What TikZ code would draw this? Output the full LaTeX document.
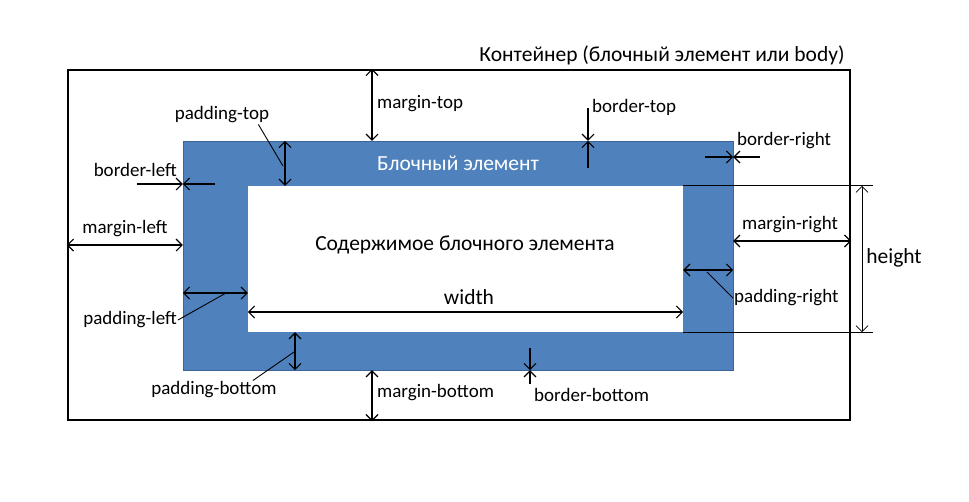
\documentclass[tikz,border=0pt]{standalone}
\usepackage{fontspec}
\setmainfont{Carlito}
\usetikzlibrary{arrows,arrows.meta,positioning,calc}
\definecolor{blockblue}{HTML}{4F81BD}
\definecolor{blockedge}{HTML}{3A6496}
\tikzset{
  lbl/.style={inner sep=1pt, font=\fontsize{19}{21}\selectfont},
  big/.style={inner sep=1pt, font=\fontsize{21.5}{24}\selectfont},
  dim/.style={<->, line width=1.1pt},
  tip/.style={->, line width=1.1pt},
  lead/.style={line width=0.9pt}
}
\begin{document}
\begin{tikzpicture}[x=1pt, y=-1pt, >={Straight Barb[length=6pt,width=12pt]}]
    \useasboundingbox (0,0) rectangle (969,501);

    % Boxes
    \node[rectangle, draw, line width=2.5pt, minimum width=782pt, minimum height=350pt] (cont) at (459,245) {};
    \node[rectangle, draw=blockedge, fill=blockblue, minimum width=550pt, minimum height=229pt] (blk) at (458,255.5) {};
    \node[rectangle, fill=white, minimum width=435pt, minimum height=146pt, inner sep=0pt] (inner) at (465.5,259) {};

    % Texts
    \node[big] (title) at (662,55) {Контейнер (блочный элемент или body)};
    \node[big, text=white] (blkname) at (458,163) {Блочный элемент};
    \node[big] (content) at (465,245) {Содержимое блочного элемента};
    \node[big] (widthl) at (469,297) {width};
    \node[lbl, anchor=west] (mtop) at (376,104) {margin-top};
    \node[lbl, anchor=west] (mbot) at (376,393) {margin-bottom};
    \node[lbl, anchor=west] (btop) at (591,107) {border-top};
    \node[lbl, anchor=west] (bright) at (736,141) {border-right};
    \node[lbl, anchor=east] (bleft) at (178,170) {border-left};
    \node[lbl] (mleft) at (125,229) {margin-left};
    \node[lbl, anchor=east] (pleft) at (178,320) {padding-left};
    \node[lbl] (ptop) at (222,115) {padding-top};
    \node[lbl] (pbot) at (214,390) {padding-bottom};
    \node[lbl, anchor=west] (pright) at (733,298) {padding-right};
    \node[lbl, anchor=west] (bbot) at (533,395) {border-bottom};
    \node[lbl] (mright) at (790,225) {margin-right};
    \node[big] (heightl) at (894,258) {height};

    % Dimension lines
    \draw[dim] (inner.west |- 0,312) -- (inner.east |- 0,312);
    \draw[dim] (372,0 |- cont.north) -- (372,0 |- blk.north);
    \draw[dim] (372,0 |- blk.south) -- (372,0 |- cont.south);
    \draw[dim] (cont.west |- 0,245) -- (blk.west |- 0,245);
    \draw[dim] (blk.east |- 0,241) -- (cont.east |- 0,241);
    \draw[dim] (blk.west |- 0,293) -- (inner.west |- 0,293);
    \draw[dim] (inner.east |- 0,270) -- (blk.east |- 0,270);
    \draw[dim] (285,0 |- blk.north) -- (285,0 |- inner.north);
    \draw[dim] (295,0 |- inner.south) -- (295,0 |- blk.south);
    \draw[tip] (588,108) -- (588,0 |- blk.north);
    \draw[tip] (588,168) -- (588,0 |- blk.north);
    \draw[tip] (530,348) -- (530,0 |- blk.south);
    \draw[tip] (530,384) -- (530,0 |- blk.south);
    \draw[tip] (137,184) -- (blk.west |- 0,184);
    \draw[tip] (215,184) -- (blk.west |- 0,184);
    \draw[tip] (705,157) -- (blk.east |- 0,157);
    \draw[tip] (760,157) -- (blk.east |- 0,157);

    % height
    \draw[lead] (inner.north east) -- (873,0 |- inner.north);
    \draw[lead] (inner.south east) -- (873,0 |- inner.south);
    \draw[dim, line width=0.8pt] (862,0 |- inner.north) -- (862,0 |- inner.south);

    % Leaders
    \draw[lead] (ptop.south east) ++(-12,0) -- (283,166);
    \draw[lead] (pleft.east) -- (226,293);
    \draw[lead] (pbot.north east) ++(-25,0) -- (294,352);
    \draw[lead] (pright.west) -- (707,272);
\end{tikzpicture}
\end{document}
